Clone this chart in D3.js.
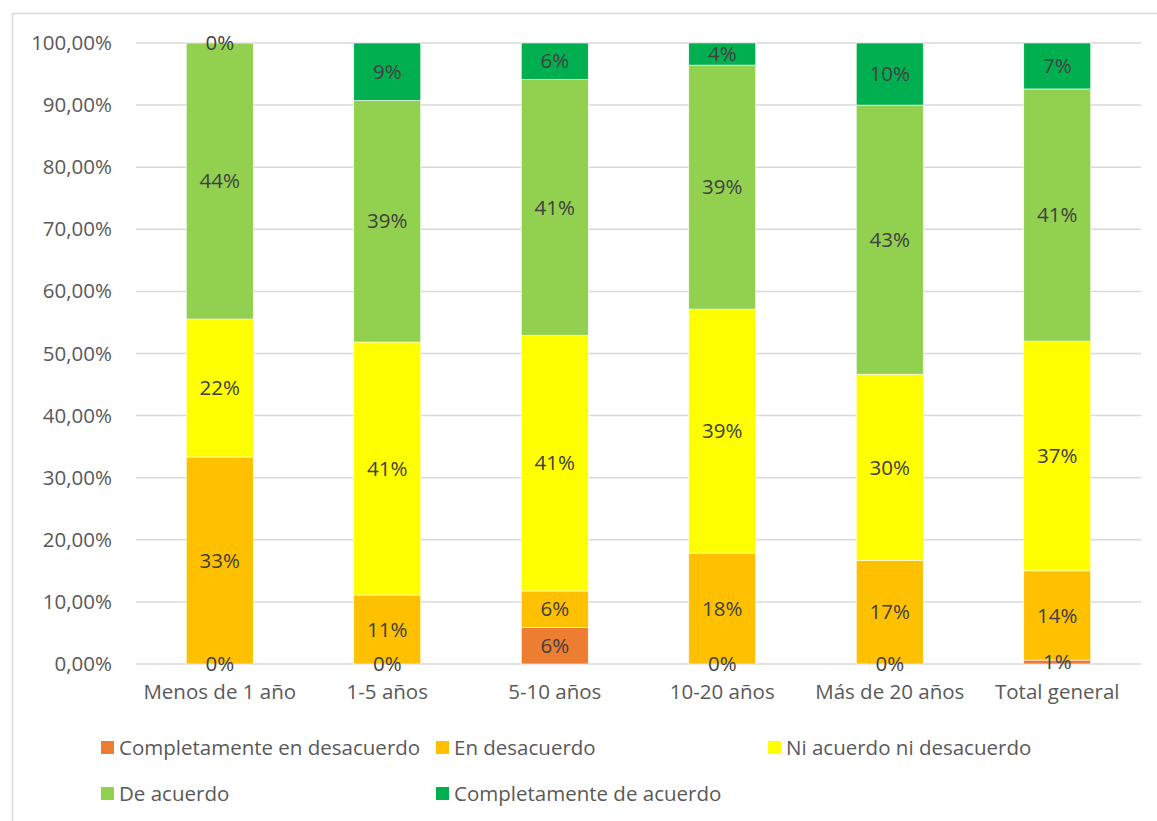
<!DOCTYPE html>
<html>
<head>
<meta charset="utf-8">
<script src="https://cdn.jsdelivr.net/npm/d3@7"></script>
<style>
  body { margin: 0; background: #fff; }
  text { font-family: "Open Sans", Lato, sans-serif; }
</style>
</head>
<body>
<svg id="viz" width="1157" height="821"></svg>
<script>
// categories (x axis)
var categories = ["Menos de 1 año", "1-5 años", "5-10 años", "10-20 años", "Más de 20 años", "Total general"];

// series, share of each category (0..1)
var seriesNames = ["Completamente en desacuerdo", "En desacuerdo", "Ni acuerdo ni desacuerdo", "De acuerdo", "Completamente de acuerdo"];
var completamenteDesacuerdo = [0, 0, 0.0588, 0, 0, 0.0064];
var enDesacuerdo = [0.3333, 0.1111, 0.0588, 0.1786, 0.1667, 0.1436];
var niAcuerdo = [0.2222, 0.4074, 0.4118, 0.3929, 0.3000, 0.3700];
var deAcuerdo = [0.4444, 0.3889, 0.4118, 0.3929, 0.4333, 0.4060];
var completamenteAcuerdo = [0, 0.0926, 0.0588, 0.0357, 0.1000, 0.0740];
var colors = ["#ed7d31", "#ffc000", "#ffff00", "#92d050", "#00b050"];
var yTicks = [0, 0.1, 0.2, 0.3, 0.4, 0.5, 0.6, 0.7, 0.8, 0.9, 1];

var allSeries = [completamenteDesacuerdo, enDesacuerdo, niAcuerdo, deAcuerdo, completamenteAcuerdo];
var FONT = 20.5;

function run() {
    var svg = d3.select("#viz");

    // chart frame
    svg.append("rect")
        .attr("x", 12.5).attr("y", 13.5)
        .attr("width", 1160).attr("height", 820)
        .attr("fill", "#fff")
        .attr("stroke", "#d9d9d9")
        .attr("stroke-width", 1.5);

    var x = d3.scaleBand().domain(categories).range([136, 1141]).paddingInner(0.6).paddingOuter(0.3);
    var y = d3.scaleLinear().domain([0, 1]).range([664, 43]);

    // gridlines
    svg.append("g").selectAll("line")
        .data(yTicks)
        .enter().append("line")
        .attr("x1", 136).attr("x2", 1141)
        .attr("y1", function(d) { return y(d); })
        .attr("y2", function(d) { return y(d); })
        .attr("stroke", "#d9d9d9")
        .attr("stroke-width", 1.5);

    // y axis labels
    var fmt = function(d) { return d3.format(".2f")(d * 100).replace(".", ",") + "%"; };
    var yAxis = svg.append("g")
        .attr("transform", "translate(120,0)")
        .call(d3.axisLeft(y).tickValues(yTicks).tickFormat(fmt).tickSize(0).tickPadding(8));
    yAxis.select(".domain").remove();
    yAxis.selectAll("text")
        .attr("font-size", FONT)
        .attr("fill", "#595959")
        .attr("font-family", "'Open Sans', sans-serif");

    // x axis labels
    var xAxis = svg.append("g")
        .attr("transform", "translate(0,664)")
        .call(d3.axisBottom(x).tickSize(0).tickPadding(20));
    xAxis.select(".domain").remove();
    xAxis.selectAll("text")
        .attr("font-size", FONT)
        .attr("fill", "#595959")
        .attr("font-family", "'Open Sans', sans-serif");

    // stacked data
    var rows = categories.map(function(c, i) {
        var r = { cat: c };
        seriesNames.forEach(function(s, j) { r[s] = allSeries[j][i]; });
        return r;
    });
    var stack = d3.stack().keys(seriesNames)(rows);

    var layers = svg.append("g").selectAll("g")
        .data(stack)
        .enter().append("g")
        .attr("fill", function(d, i) { return colors[i]; });

    layers.selectAll("rect")
        .data(function(d) { return d; })
        .enter().append("rect")
        .attr("x", function(d) { return x(d.data.cat); })
        .attr("width", x.bandwidth())
        .attr("y", function(d) { return y(d[1]); })
        .attr("height", function(d) { return y(d[0]) - y(d[1]); })
        .attr("stroke", "#fff")
        .attr("stroke-width", 0.6);

    // data labels, drawn after all bars
    var labels = svg.append("g").selectAll("g")
        .data(stack)
        .enter().append("g");
    labels.selectAll("text")
        .data(function(d) { return d; })
        .enter().append("text")
        .attr("x", function(d) { return x(d.data.cat) + x.bandwidth() / 2; })
        .attr("y", function(d) { return y((d[0] + d[1]) / 2); })
        .attr("dy", "0.35em")
        .attr("text-anchor", "middle")
        .attr("font-size", FONT)
        .attr("fill", "#404040")
        .text(function(d) { return Math.round((d[1] - d[0]) * 100) + "%"; });

    // legend
    var legendPos = [[101, 748], [436, 748], [768, 748], [101, 794], [436, 794]];
    var legend = svg.append("g").selectAll("g")
        .data(seriesNames)
        .enter().append("g")
        .attr("transform", function(d, i) { return "translate(" + legendPos[i][0] + "," + legendPos[i][1] + ")"; });
    legend.append("rect")
        .attr("x", 0).attr("y", -7)
        .attr("width", 13).attr("height", 13)
        .attr("fill", function(d, i) { return colors[i]; });
    legend.append("text")
        .attr("x", 18).attr("y", 0)
        .attr("dy", "0.35em")
        .attr("font-size", FONT)
        .attr("fill", "#595959")
        .text(function(d) { return d; });
}

run();
</script>
</body>
</html>
